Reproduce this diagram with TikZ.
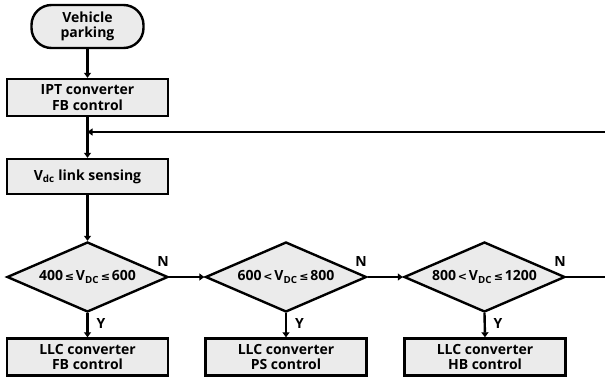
\documentclass[tikz,border=0pt]{standalone}
\usepackage{fontspec}
\setmainfont{Open Sans}
\newfontfamily\symf{DejaVu Sans}
\usetikzlibrary{shapes.geometric,arrows.meta}
\definecolor{boxgray}{HTML}{EBEBEB}
\newcommand{\lee}{{\symf\fontsize{11}{11}\selectfont\,≤\,}}
\newcommand{\ltt}{{\symf\fontsize{11}{11}\selectfont\,<\,}}
\begin{document}
\begin{tikzpicture}[x=1pt,y=-1pt,
  txt/.style={font=\bfseries\fontsize{14}{15.5}\selectfont},
  procbox/.style={txt, draw, line width=2.4pt, fill=boxgray, minimum width=161pt, minimum height=37pt, inner sep=0pt, align=center},
  termbox/.style={txt, draw, line width=2.4pt, fill=boxgray, minimum width=112pt, minimum height=43pt, inner sep=0pt, align=center, rounded corners=20pt},
  decision/.style={txt, draw, line width=2.4pt, fill=boxgray, diamond, shape aspect=2.3, minimum width=161pt, minimum height=70pt, inner sep=0pt},
  conn/.style={line width=2.4pt},
  arr/.style={conn, -{Triangle[length=5pt,width=7pt]}},
  lbl/.style={txt, inner sep=0pt}
]
\useasboundingbox (0,0) rectangle (605,381);
\node[termbox] (start) at (87.5,26.5) {Vehicle\\parking};
\node[procbox] (ipt) at (87.5,97.5) {IPT converter\\FB control};
\node[procbox, minimum height=35pt] (sense) at (87.5,176.5) {V\textsubscript{dc} link sensing};
\node[decision] (d1) at (87.5,277) {400\lee V\textsubscript{DC}\lee 600};
\node[decision] (d2) at (286,277) {600\ltt V\textsubscript{DC}\lee 800};
\node[decision] (d3) at (484.5,277) {800\ltt V\textsubscript{DC}\lee 1200};
\node[procbox] (b1) at (87.5,357) {LLC converter\\FB control};
\node[procbox] (b2) at (286,357) {LLC converter\\PS control};
\node[procbox] (b3) at (485,357) {LLC converter\\HB control};
\coordinate (fb) at (605,132);
\coordinate (out) at (605,277);
\draw[arr] (start) -- (ipt);
\draw[arr] (ipt) -- (sense);
\draw[arr] (fb) -- (fb -| ipt.south);
\draw[arr] (sense) -- (d1);
\draw[arr] (d1.east) -- (d2.west);
\draw[arr] (d2.east) -- (d3.west);
\draw[conn] (d3.east) -- (out);
\draw[arr] (d1.south) -- (b1.north);
\draw[arr] (d2.south) -- (b2.north);
\draw[arr] (d3.south) -- (b3.north);
\node[lbl] (n1) at (163,261) {N};
\node[lbl] (n2) at (361,261) {N};
\node[lbl] (n3) at (560,261) {N};
\node[lbl] (y1) at (101,323) {Y};
\node[lbl] (y2) at (299.5,323) {Y};
\node[lbl] (y3) at (498,323) {Y};
\end{tikzpicture}
\end{document}
